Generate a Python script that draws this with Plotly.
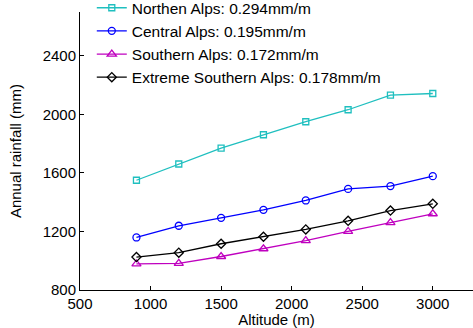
import plotly.graph_objects as go

altitude = [900, 1200, 1500, 1800, 2100, 2400, 2700, 3000]
northern = [1550, 1661, 1770, 1861, 1950, 2032, 2132, 2143]
central = [1159, 1239, 1293, 1348, 1412, 1491, 1510, 1578]
southern = [978, 982, 1029, 1082, 1137, 1200, 1261, 1321]
extreme = [1025, 1055, 1116, 1164, 1214, 1273, 1343, 1389]

names = ["Northen Alps: 0.294mm/m", "Central Alps: 0.195mm/m",
         "Southern Alps: 0.172mm/m", "Extreme Southern Alps: 0.178mm/m"]
series = [northern, central, southern, extreme]
colors = ["#1fbfbf", "#0000ff", "#bf00bf", "#000000"]
symbols = ["square-open", "circle-open", "triangle-up-open", "diamond-open"]
sizes = [6, 7, 8, 7]

fig = go.Figure()
for n, s, c, sym, sz in zip(names, series, colors, symbols, sizes):
    fig.add_trace(go.Scatter(x=altitude, y=s, name=n, mode="lines+markers",
                             line=dict(color=c, width=1.3),
                             marker=dict(symbol=sym, size=sz, color=c,
                                         line=dict(color=c, width=1.3))))

fig.update_layout(
    width=473, height=328,
    margin=dict(l=80, r=0, t=12, b=38, autoexpand=False),
    plot_bgcolor="white", paper_bgcolor="white",
    font=dict(family="Liberation Sans, Arial", size=15, color="black"),
    showlegend=True,
    legend=dict(x=0.03, y=1.075, xanchor="left", yanchor="top",
                bgcolor="rgba(0,0,0,0)", font=dict(size=15.5),
                tracegroupgap=0, itemwidth=30),
    xaxis=dict(range=[500, 3285], tickvals=[500, 1000, 1500, 2000, 2500, 3000],
               showgrid=False, zeroline=False, showline=True, linecolor="black",
               linewidth=1, ticks="inside", ticklen=4, tickcolor="black",
               ticklabelstandoff=0, automargin=False,
               tickfont=dict(size=15),
               title=dict(text="Altitude (m)", standoff=0, font=dict(size=15))),
    yaxis=dict(range=[800, 2700], tickvals=[800, 1200, 1600, 2000, 2400],
               showgrid=False, zeroline=False, showline=True, linecolor="black",
               linewidth=1, ticks="inside", ticklen=4, tickcolor="black",
               tickfont=dict(size=15), automargin=False,
               title=dict(text="Annual rainfall (mm)", standoff=17, font=dict(size=15))),
)

fig.write_html("out.html")
